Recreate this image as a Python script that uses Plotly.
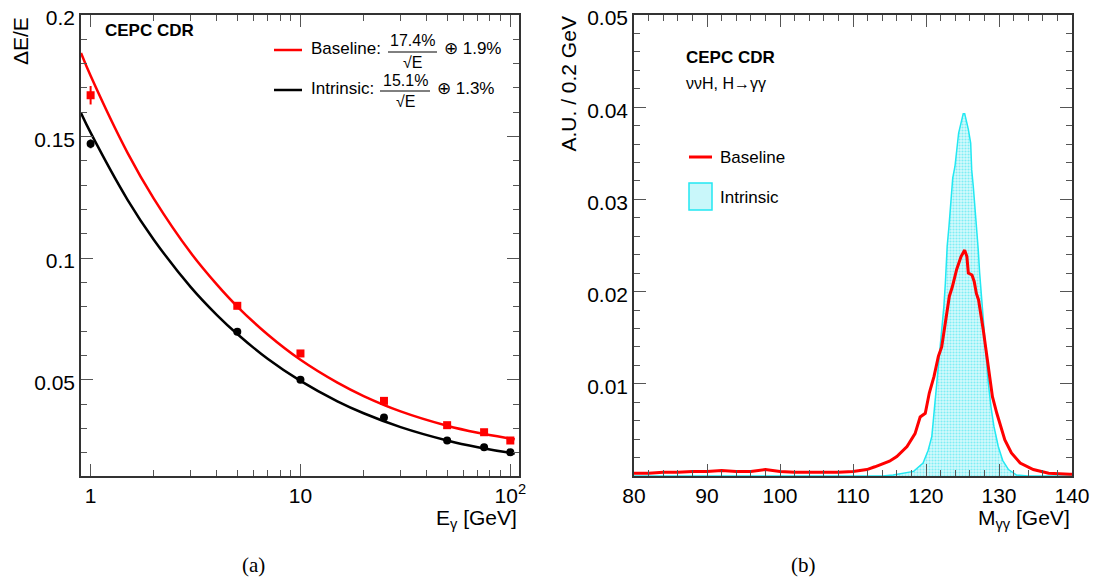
import plotly.graph_objects as go

# ---------------- Panel (a): energy resolution ----------------
E_points = [1, 5, 10, 25, 50, 75, 100]
res_baseline = [0.167, 0.0804, 0.0608, 0.0413, 0.0313, 0.0284, 0.0250]
err_baseline = [0.0038, 0.0008, 0.0008, 0.0006, 0.0005, 0.0005, 0.0005]
res_intrinsic = [0.147, 0.0697, 0.0500, 0.0345, 0.0250, 0.0222, 0.0202]
err_intrinsic = [0.0018, 0.0005, 0.0005, 0.0005, 0.0004, 0.0004, 0.0004]

E_fit = [0.9, 1, 1.5, 2, 3, 4, 5, 7, 10, 15, 20, 30, 50, 70, 100, 105]
fit_baseline = [0.1844, 0.1750, 0.1433, 0.1245, 0.1022, 0.0891, 0.0801, 0.0685,
                0.0582, 0.0488, 0.0433, 0.0370, 0.0311, 0.0282, 0.0258, 0.0255]
fit_intrinsic = [0.1597, 0.1516, 0.1240, 0.1076, 0.0881, 0.0766, 0.0688, 0.0585,
                 0.0495, 0.0411, 0.0362, 0.0305, 0.0250, 0.0222, 0.0199, 0.0197]

# ---------------- Panel (b): diphoton mass ----------------
m_intrinsic = [80, 110, 114, 115.5, 118.3, 119.6, 120.3, 120.8, 121.1, 121.55, 121.8,
               122.15, 122.45, 122.65, 122.9, 123.15, 123.42, 123.66, 123.97, 124.29,
               124.47, 124.89, 125.1, 125.3, 125.52, 125.8, 126.12, 126.26, 126.48,
               126.75, 126.95, 127.16, 127.35, 127.6, 127.75, 128.1, 128.5, 128.9,
               129.3, 129.9, 130.5, 131.3, 132.4, 134, 140]
h_intrinsic = [0, 0, 0, 0.0001, 0.0005, 0.0014, 0.0028, 0.0043, 0.0068, 0.0104, 0.0122,
               0.0158, 0.0184, 0.0209, 0.0249, 0.0271, 0.0303, 0.0323, 0.0336, 0.0361,
               0.0372, 0.0386, 0.0393, 0.0393, 0.0386, 0.0376, 0.0361, 0.0332, 0.0314,
               0.0289, 0.0267, 0.0245, 0.0220, 0.0195, 0.0177, 0.0140, 0.0104, 0.0075,
               0.0054, 0.0032, 0.0017, 0.0007, 0.0001, 0, 0]

m_baseline = [80, 82, 84, 86, 88, 90, 92, 94, 96, 98, 100, 102, 104, 106, 108, 110,
              111.9, 113, 114.2, 115, 116.0, 117.4, 118.5, 119.2, 119.9, 120.45, 121.1,
              121.7, 122.15, 122.6, 123.2, 123.6, 124.2, 124.8, 125.3, 125.6, 125.8,
              126.3, 126.6, 126.9, 127.2, 127.85, 128.45, 129.1, 129.7, 130.4, 130.8,
              131.7, 132.9, 134.7, 136.8, 139.7, 140]
h_baseline = [0.0003, 0.0003, 0.0004, 0.0004, 0.0005, 0.0005, 0.0006, 0.0005, 0.0005,
              0.0007, 0.0005, 0.0004, 0.0004, 0.0004, 0.0004, 0.0005, 0.0007, 0.0010,
              0.0014, 0.0016, 0.0021, 0.0032, 0.0046, 0.0064, 0.0068, 0.0090, 0.0108,
              0.0130, 0.0140, 0.0166, 0.0195, 0.0205, 0.0224, 0.0238, 0.0245, 0.0238,
              0.0220, 0.0218, 0.0211, 0.0198, 0.0191, 0.0158, 0.0122, 0.0086, 0.0068,
              0.0050, 0.0039, 0.0025, 0.0014, 0.0007, 0.0003, 0.0002, 0.0002]

W, H = 1099, 584
OFF = 8  # page body margin compensation
FONT = "Liberation Sans, Arial, sans-serif"
RED = "#ff0000"
CYAN = "#22e8f2"


def px(x):
    return (x - OFF) / W


def py(y):
    return 1 - (y - OFF) / H


fig = go.Figure()

# fits
fig.add_trace(go.Scatter(x=E_fit, y=fit_baseline, mode="lines", line=dict(color=RED, width=2.5, shape="spline"),
                         xaxis="x", yaxis="y", showlegend=False, hoverinfo="skip"))
fig.add_trace(go.Scatter(x=E_fit, y=fit_intrinsic, mode="lines", line=dict(color="black", width=2.5, shape="spline"),
                         xaxis="x", yaxis="y", showlegend=False, hoverinfo="skip"))
# points
fig.add_trace(go.Scatter(x=E_points, y=res_baseline, mode="markers",
                         marker=dict(symbol="square", size=8, color=RED),
                         error_y=dict(type="data", array=err_baseline, color=RED, thickness=2, width=0),
                         xaxis="x", yaxis="y", showlegend=False))
fig.add_trace(go.Scatter(x=E_points, y=res_intrinsic, mode="markers",
                         marker=dict(symbol="circle", size=8, color="black"),
                         error_y=dict(type="data", array=err_intrinsic, color="black", thickness=2, width=0),
                         xaxis="x", yaxis="y", showlegend=False))

# histograms
fig.add_trace(go.Scatter(x=m_intrinsic, y=h_intrinsic, mode="lines", line=dict(color=CYAN, width=1.5),
                         fill="tozeroy", fillcolor="#c9f7fa",
                         fillpattern=dict(shape=".", fgcolor="#7eeef5", bgcolor="#d6fafc", size=3, solidity=0.4),
                         xaxis="x2", yaxis="y2", showlegend=False, hoverinfo="skip"))
fig.add_trace(go.Scatter(x=m_baseline, y=h_baseline, mode="lines", line=dict(color=RED, width=3),
                         xaxis="x2", yaxis="y2", showlegend=False, hoverinfo="skip"))

axis_common = dict(showline=True, linecolor="#333333", linewidth=1.5, mirror="allticks",
                   ticks="inside", ticklen=12, tickwidth=1, tickcolor="#555555",
                   showgrid=False, zeroline=False, automargin=False,
                   ticklabeloverflow="allow",
                   tickfont=dict(family=FONT, size=21, color="black"))

fig.update_layout(
    template="none",
    width=W, height=H,
    margin=dict(l=0, r=0, t=0, b=0),
    paper_bgcolor="white", plot_bgcolor="white",
    xaxis=dict(domain=[px(81), px(519)], type="log", range=[-0.0458, 2.0414],
               tickvals=[1, 10, 100], ticktext=["1", "10", "10<sup>2</sup>"],
               minor=dict(ticks="inside", ticklen=6, tickcolor="#555555",
                          tickvals=[2, 3, 4, 5, 6, 7, 8, 9, 20, 30, 40, 50, 60, 70, 80, 90]),
               anchor="y", **axis_common),
    yaxis=dict(domain=[py(476), py(15)], range=[0.0104, 0.2],
               tickvals=[0.05, 0.1, 0.15, 0.2], ticktext=["0.05", "0.1", "0.15", "0.2"],
               ticklabelshift=3,
               minor=dict(ticks="inside", ticklen=6, tickcolor="#555555", dtick=0.01, tick0=0),
               anchor="x", **axis_common),
    xaxis2=dict(domain=[px(634), px(1072)], range=[80, 140],
                tickvals=[80, 90, 100, 110, 120, 130, 140],
                minor=dict(ticks="inside", ticklen=6, tickcolor="#555555", dtick=2, tick0=80),
                anchor="y2", **axis_common),
    yaxis2=dict(domain=[py(476), py(15)], range=[0, 0.05],
                tickvals=[0.01, 0.02, 0.03, 0.04, 0.05],
                ticktext=["0.01", "0.02", "0.03", "0.04", "0.05"],
                ticklabelshift=3,
                minor=dict(ticks="inside", ticklen=6, tickcolor="#555555", dtick=0.002, tick0=0),
                anchor="x2", **axis_common),
)

ann = []


def text(x, y, s, size=17, xanchor="left", yanchor="middle", angle=0, family=FONT, color="black"):
    ann.append(dict(x=px(x), y=py(y), xref="paper", yref="paper", text=s, showarrow=False,
                    xanchor=xanchor, yanchor=yanchor, textangle=angle,
                    font=dict(family=family, size=size, color=color)))


# panel (a) texts
text(21, 15, "ΔE/E", size=21, xanchor="center", yanchor="top", angle=-90)
text(519, 519, "E<sub>γ</sub> [GeV]", size=21, xanchor="right")
text(103, 30, "<b>CEPC CDR</b>", size=17)
text(309, 48, "Baseline:", size=17)
text(412, 41, "17.4%", size=16, xanchor="center")
text(412, 62, "√E", size=16, xanchor="center")
text(442, 48, "⊕ 1.9%", size=17)
text(309, 88, "Intrinsic:", size=17)
text(405, 80, "15.1%", size=16, xanchor="center")
text(405, 102, "√E", size=16, xanchor="center")
text(435, 88, "⊕ 1.3%", size=17)

# panel (b) texts
text(568, 15, "A.U. / 0.2 GeV", size=21, xanchor="center", yanchor="top", angle=-90)
text(1072, 519, "M<sub>γγ</sub> [GeV]", size=21, xanchor="right")
text(684, 57, "<b>CEPC CDR</b>", size=17)
text(684, 83, "ννH, H→γγ", size=16)
text(718, 157, "Baseline", size=17)
text(718, 197, "Intrinsic", size=17)

# captions
text(253, 565, "(a)", size=21, xanchor="center", family="Liberation Serif, Times New Roman, serif")
text(803, 565, "(b)", size=21, xanchor="center", family="Liberation Serif, Times New Roman, serif")

fig.update_layout(annotations=ann)

shapes = [
    # legend panel (a)
    dict(type="line", xref="paper", yref="paper", x0=px(274), x1=px(302), y0=py(50), y1=py(50),
         line=dict(color=RED, width=2.5)),
    dict(type="line", xref="paper", yref="paper", x0=px(274), x1=px(302), y0=py(90), y1=py(90),
         line=dict(color="black", width=2.5)),
    dict(type="line", xref="paper", yref="paper", x0=px(388), x1=px(437), y0=py(52), y1=py(52),
         line=dict(color="black", width=1)),
    dict(type="line", xref="paper", yref="paper", x0=px(380), x1=px(430), y0=py(91), y1=py(91),
         line=dict(color="black", width=1)),
    # legend panel (b)
    dict(type="line", xref="paper", yref="paper", x0=px(689), x1=px(712), y0=py(157), y1=py(157),
         line=dict(color=RED, width=3)),
    dict(type="rect", xref="paper", yref="paper", x0=px(689), x1=px(712), y0=py(210), y1=py(183),
         line=dict(color=CYAN, width=1.5), fillcolor="#c9f7fa"),
]
fig.update_layout(shapes=shapes)

fig.write_html("out.html")
